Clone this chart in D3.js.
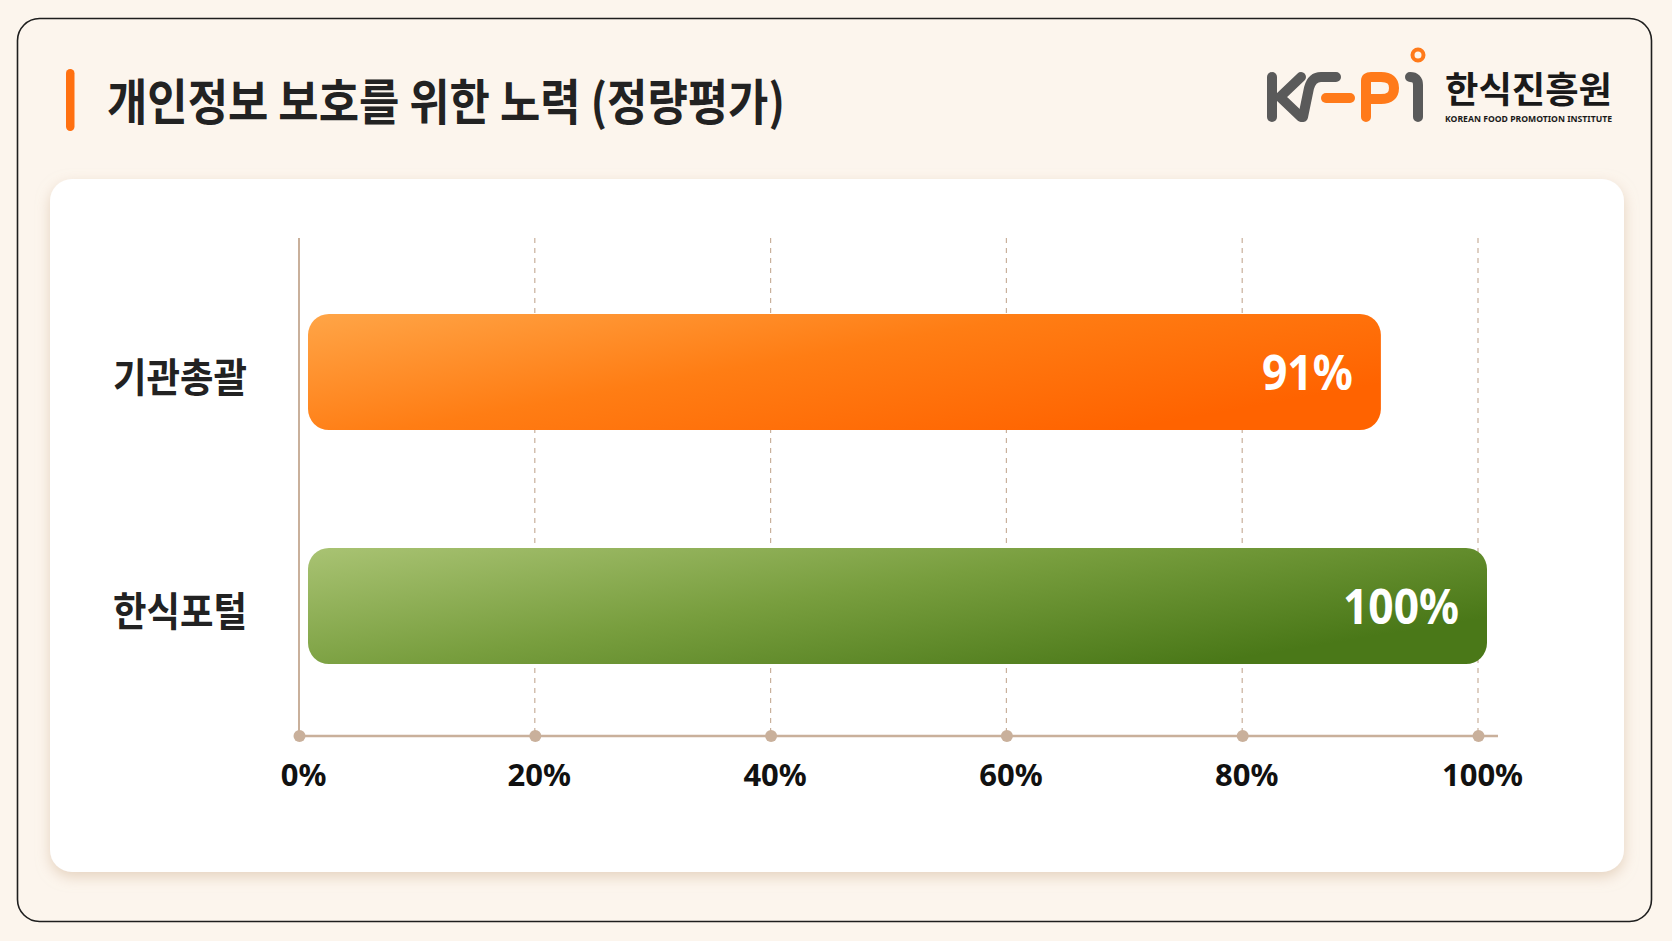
<!DOCTYPE html>
<html>
<head>
    <meta charset="utf-8">
    <title>개인정보 보호를 위한 노력 (정량평가)</title>
    <script src="https://d3js.org/d3.v7.min.js"></script>
    <style>
        body { margin: 0; background: #fcf5ed; }
        svg { display: block; }
    </style>
</head>
<body>
<svg id="chart" width="1672" height="941"></svg>

<script>
    // data
    var categories = ["기관총괄", "한식포털"];
    var values = [91, 100];
    var tickValues = [0, 20, 40, 60, 80, 100];
    var titleText = "개인정보 보호를 위한 노력 (정량평가)";

    var W = 1672, H = 941;
    var kr = "'Noto Sans CJK KR', 'Noto Sans', sans-serif";
    var latin = "'Noto Sans', 'Open Sans', sans-serif";

    var svg = d3.select("#chart");
    var defs = svg.append("defs");

    // card shadow
    var shadow = defs.append("filter").attr("id", "cardShadow")
        .attr("x", "-5%").attr("y", "-5%").attr("width", "110%").attr("height", "115%");
    shadow.append("feDropShadow")
        .attr("dx", 0).attr("dy", 5).attr("stdDeviation", 7)
        .attr("flood-color", "#d6bca2").attr("flood-opacity", 0.6);

    var gradStops = [
        [["0%", "#ffa547"], ["50%", "#ff7d14"], ["100%", "#ff6300"]],
        [["0%", "#a9c373"], ["50%", "#789e3e"], ["100%", "#4a7818"]]
    ];
    gradStops.forEach(function(stops, i) {
        var g = defs.append("linearGradient").attr("id", "barGrad" + i)
            .attr("x1", 0).attr("y1", 0).attr("x2", 1).attr("y2", 0.6);
        stops.forEach(function(s) {
            g.append("stop").attr("offset", s[0]).attr("stop-color", s[1]);
        });
    });

    // background + frame
    svg.append("rect").attr("width", W).attr("height", H).attr("fill", "#fcf5ed");
    svg.append("rect")
        .attr("x", 17.5).attr("y", 18.5).attr("width", 1634).attr("height", 903)
        .attr("rx", 22)
        .attr("fill", "#fcf5ed").attr("stroke", "#1e1e1e").attr("stroke-width", 1.6);

    // title
    svg.append("rect")
        .attr("x", 66).attr("y", 69).attr("width", 8.5).attr("height", 62).attr("rx", 4.2)
        .attr("fill", "#ff7010");
    svg.append("text")
        .attr("x", 107).attr("y", 120)
        .attr("font-family", kr).attr("font-weight", 700).attr("font-size", 49)
        .attr("fill", "#222")
        .attr("textLength", 678).attr("lengthAdjust", "spacingAndGlyphs")
        .text(titleText);

    // logo
    var logo = svg.append("g").attr("fill", "none")
        .attr("stroke-linecap", "round").attr("stroke-linejoin", "round")
        .attr("stroke-width", 10);
    logo.append("path").attr("stroke", "#5a5a5a").attr("d", "M1272,77 V117");
    logo.append("path").attr("stroke", "#5a5a5a").attr("d", "M1301,77 L1280,97 L1301,117");
    logo.append("path").attr("stroke", "#5a5a5a")
        .attr("d", "M1336,77 H1321 Q1312,77 1309,88 L1303,117");
    logo.append("path").attr("stroke", "#ff7a1a").attr("d", "M1326,98 H1350");
    logo.append("path").attr("stroke", "#ff7a1a")
        .attr("d", "M1366,117 V81 Q1366,77 1371,77 H1381 Q1394,77 1394,88 Q1394,99 1381,99 H1370");
    logo.append("path").attr("stroke", "#5a5a5a").attr("d", "M1410,77 Q1418,77 1418,85 V117");
    logo.append("circle").attr("cx", 1418).attr("cy", 55).attr("r", 5.5)
        .attr("stroke", "#ff7a1a").attr("stroke-width", 4);
    svg.append("text")
        .attr("x", 1445).attr("y", 103)
        .attr("font-family", kr).attr("font-weight", 700).attr("font-size", 36)
        .attr("fill", "#1a1a1a")
        .attr("textLength", 167).attr("lengthAdjust", "spacingAndGlyphs")
        .text("한식진흥원");
    svg.append("text")
        .attr("x", 1445).attr("y", 122)
        .attr("font-family", latin).attr("font-weight", 700).attr("font-size", 8.5)
        .attr("fill", "#1a1a1a")
        .attr("textLength", 167).attr("lengthAdjust", "spacingAndGlyphs")
        .text("KOREAN FOOD PROMOTION INSTITUTE");

    // white card
    svg.append("rect")
        .attr("x", 50).attr("y", 179).attr("width", 1574).attr("height", 693).attr("rx", 22)
        .attr("fill", "#ffffff").attr("filter", "url(#cardShadow)");

    // scales
    var x = d3.scaleLinear().domain([0, 100]).range([299, 1478]);
    var y = d3.scaleBand().domain(categories).range([255, 723])
        .paddingInner(0.504).paddingOuter(0.252);
    var axisY = 736;
    var gridTop = 238;
    var axisColor = "#c9b09b";

    var grid = svg.append("g");
    grid.selectAll("line")
        .data(tickValues.slice(1))
        .enter().append("line")
        .attr("x1", function(d) { return x(d); })
        .attr("x2", function(d) { return x(d); })
        .attr("y1", gridTop).attr("y2", axisY)
        .attr("stroke", axisColor).attr("stroke-width", 1.2)
        .attr("stroke-dasharray", "5,5");

    svg.append("line")
        .attr("x1", x(0)).attr("x2", x(0)).attr("y1", gridTop).attr("y2", axisY)
        .attr("stroke", axisColor).attr("stroke-width", 2);

    // bars
    var barOffset = 9;
    svg.append("g").selectAll("rect")
        .data(values)
        .enter().append("rect")
        .attr("x", x(0) + barOffset)
        .attr("y", function(d, i) { return y(categories[i]); })
        .attr("width", function(d) { return x(d) - x(0); })
        .attr("height", y.bandwidth())
        .attr("rx", 21)
        .attr("fill", function(d, i) { return "url(#barGrad" + i + ")"; });

    svg.append("g").selectAll("text")
        .data(values)
        .enter().append("text")
        .attr("x", function(d) { return x(d) + barOffset - 28; })
        .attr("y", function(d, i) { return y(categories[i]) + y.bandwidth() / 2 + 18; })
        .attr("text-anchor", "end")
        .attr("font-family", latin).attr("font-weight", 700).attr("font-size", 49)
        .attr("fill", "#ffffff")
        .attr("textLength", function(d) { return d === 100 ? 116 : 91; })
        .attr("lengthAdjust", "spacingAndGlyphs")
        .text(function(d) { return d + "%"; });

    // category labels
    svg.append("g").selectAll("text")
        .data(categories)
        .enter().append("text")
        .attr("x", 113)
        .attr("y", function(d) { return y(d) + y.bandwidth() / 2 + 20; })
        .attr("font-family", kr).attr("font-weight", 700).attr("font-size", 40)
        .attr("fill", "#222")
        .attr("textLength", 134).attr("lengthAdjust", "spacingAndGlyphs")
        .text(function(d) { return d; });

    // x axis
    var xAxis = d3.axisBottom(x)
        .tickValues(tickValues)
        .tickSize(0)
        .tickPadding(0)
        .tickFormat(function(d) { return d + "%"; });
    var gx = svg.append("g").attr("transform", "translate(0," + axisY + ")").call(xAxis);
    gx.select(".domain").remove();
    gx.append("line")
        .attr("x1", x(0)).attr("x2", 1498)
        .attr("stroke", axisColor).attr("stroke-width", 2.5);
    gx.selectAll(".tick").append("circle")
        .attr("r", 6).attr("fill", axisColor);
    gx.selectAll(".tick text")
        .attr("dx", 4).attr("dy", 0).attr("y", 50)
        .attr("font-family", latin).attr("font-weight", 700).attr("font-size", 31)
        .attr("fill", "#111");
</script>
</body>
</html>
